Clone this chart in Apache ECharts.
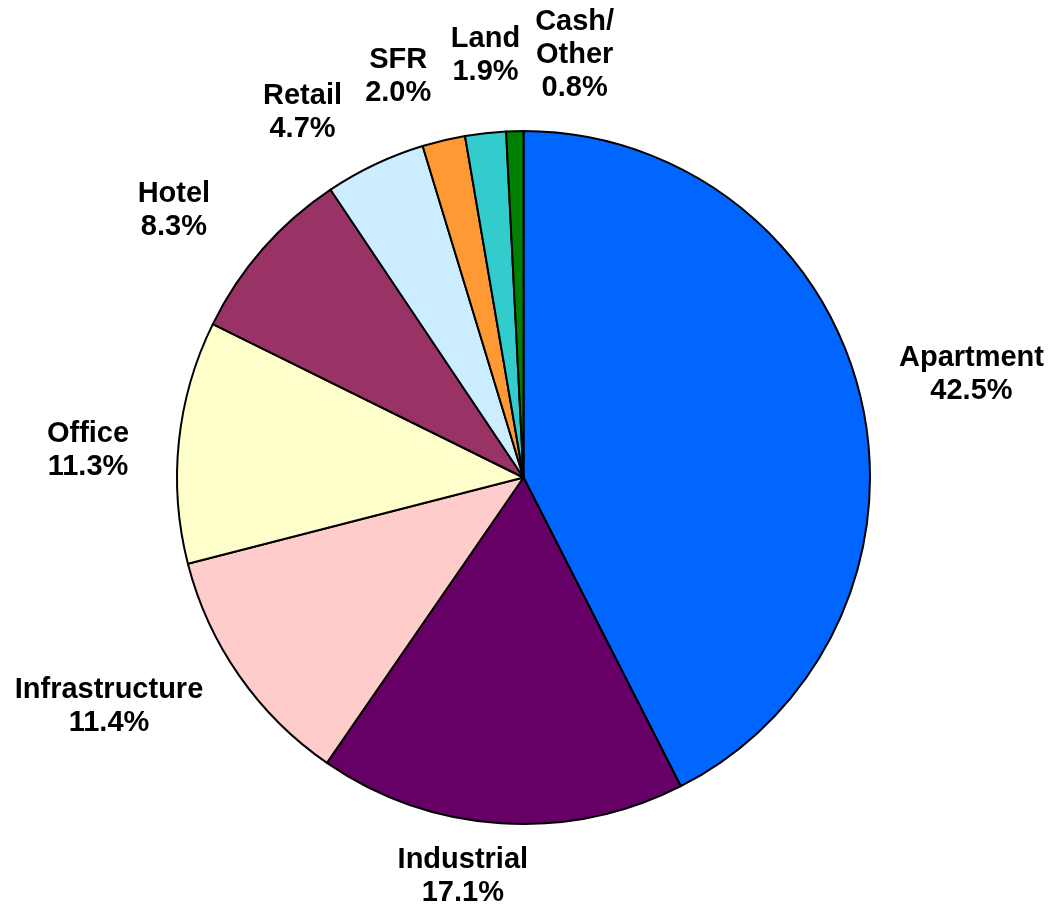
<!DOCTYPE html>
<html>
<head>
<meta charset="utf-8">
<script src="https://cdn.jsdelivr.net/npm/echarts@6/dist/echarts.min.js"></script>
<style>
  html, body { margin: 0; padding: 0; background: #fff; }
  #main { width: 1049px; height: 912px; }
</style>
</head>
<body>
<div id="main"></div>
<script>
// portfolio mix, % (clockwise from 12 o'clock)
var names = ['Apartment', 'Industrial', 'Infrastructure', 'Office', 'Hotel', 'Retail', 'SFR', 'Land', 'Cash/\nOther'];
var shares = [42.5, 17.1, 11.4, 11.3, 8.3, 4.7, 2.0, 1.9, 0.8];
var colors = ['#0066FF', '#660066', '#FFCCCC', '#FFFFCC', '#993366', '#CCECFF', '#FF9933', '#33CCCC', '#008000'];

// label tweaks (px) on top of the radial placement
var labelNudge = [[0, 5], [-33, -20], [-22, -45], [-11, 17], [-25, 17], [-37, 23], [-28, 10], [8, -5], [62, 10]];

var CX = 523.5, CY = 477.5, R = 346.5, GAP = 35;
var total = shares.reduce(function (a, b) { return a + b; }, 0);

var chart = echarts.init(document.getElementById('main'));

var pieData = names.map(function (n, i) {
    return { name: n, value: shares[i], itemStyle: { color: colors[i] } };
});

function midAngle(i) {
    var before = 0;
    for (var k = 0; k < i; k++) before += shares[k];
    return (before + shares[i] / 2) / total * Math.PI * 2;
}

chart.setOption({
    animation: false,
    series: [{
        type: 'pie',
        center: [CX, CY],
        radius: R,
        startAngle: 90,
        clockwise: true,
        data: pieData,
        itemStyle: { borderColor: '#000', borderWidth: 2 },
        emphasis: { disabled: true },
        label: {
            show: true,
            position: 'outside',
            formatter: function (p) { return p.name + '\n' + p.value.toFixed(1) + '%'; },
            fontFamily: 'Liberation Sans, Arial, sans-serif',
            fontWeight: 'bold',
            fontSize: 29,
            lineHeight: 33,
            color: '#000',
            align: 'center'
        },
        labelLine: { show: false, length: 10, length2: 0 },
        labelLayout: function (p) {
            var i = p.dataIndex;
            var t = midAngle(i);
            var ux = Math.sin(t), uy = -Math.cos(t);
            var a = p.labelRect.width / 2, b = p.labelRect.height / 2;
            var d = R + 1 + GAP + a * Math.abs(ux) + b * Math.abs(uy);
            return {
                x: CX + ux * d + labelNudge[i][0],
                y: CY + uy * d + labelNudge[i][1],
                align: 'center',
                verticalAlign: 'middle'
            };
        }
    }]
});
</script>
</body>
</html>
